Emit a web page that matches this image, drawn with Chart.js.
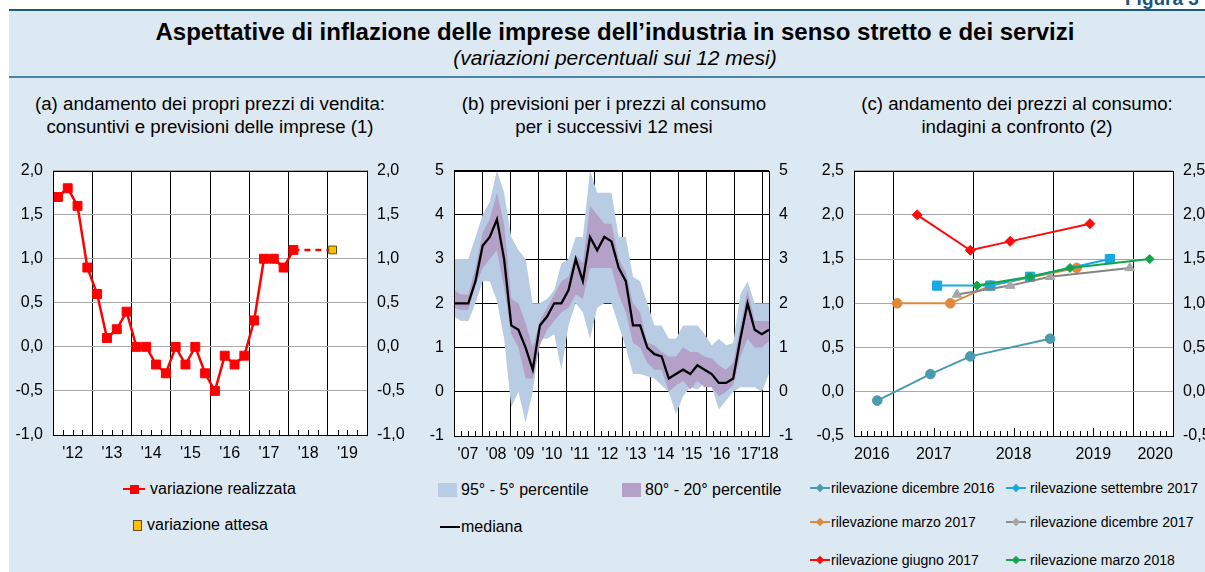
<!DOCTYPE html>
<html lang="it">
<head>
<meta charset="utf-8">
<title>Aspettative di inflazione delle imprese</title>
<script src="https://cdn.jsdelivr.net/npm/chart.js@4.4.1/dist/chart.umd.min.js"></script>
<style>
  html, body { margin: 0; padding: 0; }
  body { width: 1205px; height: 572px; position: relative; overflow: hidden; background: #fff;
         font-family: "Liberation Sans", Arial, Helvetica, sans-serif; color: #000; }
  #sfondo { position: absolute; left: 9px; top: 9px; width: 1196px; height: 563px; background: #dde9f2;
            border-top: 2px solid #1c5a80; box-sizing: border-box; }
  #riga { position: absolute; left: 9px; top: 76px; width: 1196px; height: 2px; background: #4b86a8; }
  #figura { position: absolute; left: 1125px; top: -12px; font-size: 19px; line-height: 22px; font-weight: bold; color: #17557f; white-space: nowrap; }
  #titolo { position: absolute; left: 0; width: 1230px; top: 18px; text-align: center; font-weight: bold;
            font-size: 24px; line-height: 28px; white-space: nowrap; }
  #sottotitolo { position: absolute; left: 0; width: 1230px; top: 46px; text-align: center; font-style: italic;
                 font-size: 21px; line-height: 24px; white-space: nowrap; }
  .pt { position: absolute; top: 92px; width: 420px; text-align: center; font-size: 18.7px; line-height: 23px; white-space: nowrap; }
  canvas { position: absolute; }
  .leg { position: absolute; line-height: 18px; height: 18px; white-space: nowrap; display: flex; align-items: center; }
  .f16 { font-size: 16px; }
  .f14 { font-size: 14px; }
  .seg { position: relative; display: inline-block; height: 18px; }
  .seg .l { position: absolute; left: 0; right: 0; top: 8px; height: 2px; }
  .seg .m { position: absolute; left: 50%; top: 50%; }
</style>
</head>
<body>
<div id="sfondo"></div>
<div id="riga"></div>
<div id="figura">Figura 3</div>
<div id="titolo">Aspettative di inflazione delle imprese dell’industria in senso stretto e dei servizi</div>
<div id="sottotitolo">(variazioni percentuali sui 12 mesi)</div>

<div class="pt" style="left:0px">(a) andamento dei propri prezzi di vendita:<br>consuntivi e previsioni delle imprese (1)</div>
<div class="pt" style="left:404px">(b) previsioni per i prezzi al consumo<br>per i successivi 12 mesi</div>
<div class="pt" style="left:807px">(c) andamento dei prezzi al consumo:<br>indagini a confronto (2)</div>

<canvas id="ca" width="410" height="314" style="left:0px;top:151px"></canvas>
<canvas id="cb" width="400" height="314" style="left:410px;top:151px"></canvas>
<canvas id="cc" width="395" height="314" style="left:810px;top:151px"></canvas>

<div id="legende"></div>

<script>
// ---------------- (a) propri prezzi di vendita (trimestrale, 2012-2019) ----------------
const anniA = [2012, 2013, 2014, 2015, 2016, 2017, 2018, 2019];
const realizzata = [1.7, 1.8, 1.6, 0.9, 0.6, 0.1, 0.2, 0.4, 0.0, 0.0, -0.2, -0.3, 0.0, -0.2, 0.0, -0.3,
                    -0.5, -0.1, -0.2, -0.1, 0.3, 1.0, 1.0, 0.9, 1.1];
const periodoAttesa = '2019T1';
const attesa = 1.1;
const yTickA = { min: -1.0, max: 2.0, step: 0.5 };

// ---------------- (b) previsioni a 12 mesi (trimestrale, 2007T1-2018T1) ----------------
const anniB = [2007, 2008, 2009, 2010, 2011, 2012, 2013, 2014, 2015, 2016, 2017, 2018];
const p95 = [3.0, 3.0, 3.0, 3.5, 4.0, 4.3, 5.0, 4.5, 3.5, 3.2, 3.0, 2.0, 2.0, 2.1, 2.3, 2.9, 3.0, 3.5, 3.5, 5.0,
             4.5, 4.5, 4.5, 3.5, 3.5, 2.6, 2.5, 2.0, 1.5, 1.5, 1.2, 1.2, 1.5, 1.5, 1.5, 1.3, 1.05, 1.2, 1.05, 1.1,
             2.2, 2.5, 2.0, 2.0, 2.0];
const p5 = [1.7, 1.6, 1.6, 2.0, 2.5, 2.5, 2.05, 1.2, -0.35, 0.0, -0.7, 0.0, 1.2, 1.2, 1.3, 0.5, 1.5, 2.0, 1.8, 1.2,
            1.9, 2.0, 2.0, 1.5, 1.0, 0.4, 0.4, 0.35, 0.3, 0.15, 0.0, -0.5, -0.1, 0.1, 0.05, 0.2, 0.1, -0.4, -0.2, 0.0,
            0.1, 0.1, 0.1, 0.0, 0.4];
const p80 = [2.3, 2.2, 2.2, 2.8, 3.6, 3.9, 4.5, 3.8, 2.1, 2.0, 1.55, 1.0, 1.6, 1.9, 2.2, 2.5, 2.6, 3.1, 2.9, 4.2,
             4.0, 3.8, 3.8, 3.0, 2.7, 2.0, 1.8, 1.1, 1.05, 0.9, 0.8, 0.8, 1.0, 0.9, 0.9, 0.8, 0.75, 0.6, 0.5, 0.65,
             1.5, 2.3, 1.6, 1.6, 1.6];
const p20 = [1.9, 1.85, 1.85, 2.4, 2.8, 3.0, 3.2, 2.35, 1.3, 1.0, 0.3, 0.3, 1.05, 1.4, 1.6, 1.8, 1.9, 2.2, 2.1, 2.8,
             2.8, 2.8, 2.8, 2.2, 1.8, 1.1, 1.0, 0.65, 0.5, 0.5, 0.0, 0.15, 0.25, 0.05, 0.25, 0.1, 0.1, -0.1, 0.0, 0.15,
             0.8, 1.2, 1.0, 1.0, 1.15];
const mediana = [2.0, 2.0, 2.0, 2.5, 3.3, 3.5, 3.9, 3.0, 1.5, 1.4, 1.0, 0.5, 1.5, 1.7, 2.0, 2.0, 2.3, 3.0, 2.5, 3.5,
                 3.2, 3.5, 3.4, 2.8, 2.5, 1.5, 1.5, 1.0, 0.85, 0.8, 0.3, 0.4, 0.5, 0.4, 0.6, 0.5, 0.4, 0.2, 0.2, 0.3,
                 1.2, 2.0, 1.4, 1.3, 1.4];
const yTickB = { min: -1, max: 5, step: 1 };

// ---------------- (c) indagini a confronto (mesi dall'inizio del 2016) ----------------
const anniC = [2016, 2017, 2018, 2019, 2020];
const mesiDic16 = [3.5, 11.5, 17.5, 29.5];  const valDic16 = [-0.1, 0.2, 0.4, 0.6];
const mesiMar17 = [6.5, 14.5, 20.5, 33.5];  const valMar17 = [1.0, 1.0, 1.2, 1.4];
const mesiGiu17 = [9.5, 17.5, 23.5, 35.5];  const valGiu17 = [2.0, 1.6, 1.7, 1.9];
const mesiSet17 = [12.5, 20.5, 26.5, 38.5]; const valSet17 = [1.2, 1.2, 1.3, 1.5];
const mesiDic17 = [15.5, 23.5, 29.5, 41.5]; const valDic17 = [1.1, 1.2, 1.3, 1.4];
const mesiMar18 = [18.5, 26.5, 32.5, 44.5]; const valMar18 = [1.2, 1.3, 1.4, 1.5];
const yTickC = { min: -0.5, max: 2.5, step: 0.5 };

// ---------------- helpers ----------------
const FONT = { family: '"Liberation Sans", Arial, sans-serif', size: 16 };
const virgola = v => v.toFixed(1).replace('.', ',');
const trimestri = (da, a, ultimoT) => {
  const out = [];
  for (let y = da; y <= a; y++) for (let q = 1; q <= 4; q++) {
    if (y === a && q > ultimoT) break;
    out.push(y + 'T' + q);
  }
  return out;
};
const trimestriA = trimestri(2012, 2019, 4);
const trimestriB = trimestri(2007, 2018, 1);
const trasp = 'rgba(0,0,0,0)';

// white plot area, minor ticks on the time axis, black frame
const cornice = {
  id: 'cornice',
  beforeDraw(chart) {
    const a = chart.chartArea, c = chart.ctx;
    c.save();
    c.fillStyle = '#fff';
    c.fillRect(a.left, a.top, a.right - a.left, a.bottom - a.top);
    c.restore();
  },
  afterDraw(chart, args, opts) {
    const a = chart.chartArea, c = chart.ctx, sx = chart.scales[opts.scala];
    c.save();
    c.strokeStyle = '#000';
    c.lineWidth = 1;
    c.beginPath();
    const n = Math.round((sx.max - sx.min) / opts.passo);
    for (let k = 1; k < n; k++) {
      const v = sx.min + k * opts.passo;
      const len = opts.lunghezza(v);
      if (!len) continue;
      const px = Math.round(sx.getPixelForValue(v)) + 0.5;
      c.moveTo(px, a.bottom);
      c.lineTo(px, a.bottom - len);
    }
    c.stroke();
    c.strokeRect(Math.round(a.left) + 0.5, Math.round(a.top) + 0.5,
                 Math.round(a.right - a.left), Math.round(a.bottom - a.top));
    c.restore();
  }
};
const intero = v => Math.abs(v - Math.round(v)) < 1e-6;
const annoBreve = v => "'" + String(Math.floor(v)).slice(2);

function assiY(t, larghSx, larghDx, colGriglia, fmt) {
  const base = {
    min: t.min, max: t.max,
    ticks: { stepSize: t.step, callback: fmt, color: '#000', font: FONT, padding: 10 },
    border: { display: false }
  };
  return {
    y: Object.assign({}, base, { position: 'left', grid: { color: colGriglia, drawTicks: false, lineWidth: 1 },
                                 afterFit: s => { s.width = larghSx; } }),
    y2: Object.assign({}, base, { position: 'right', grid: { drawOnChartArea: false, drawTicks: false },
                                  afterFit: s => { s.width = larghDx; } })
  };
}

function assiX(min, max, valori, etichetta, coloreGriglia, altezza, extra) {
  return Object.assign({
    type: 'linear', position: 'bottom', min: min, max: max,
    afterBuildTicks: s => { s.ticks = valori.map(v => ({ value: v })); },
    ticks: { callback: etichetta, color: '#000', font: FONT, padding: 9, maxRotation: 0, autoSkip: false },
    grid: { color: coloreGriglia, drawTicks: false, lineWidth: 1 },
    border: { display: false },
    afterFit: s => { s.height = altezza; }
  }, extra || {});
}

const comuni = {
  responsive: false, animation: false, events: [],
  layout: { padding: { top: 12, left: 0, right: 0, bottom: 0 } },
  plugins: { legend: { display: false }, tooltip: { enabled: false } }
};

// ---------------- chart (a) ----------------
const tickA = [];
anniA.forEach(y => tickA.push(y, y + 0.5));
tickA.push(anniA[anniA.length - 1] + 1);
new Chart(document.getElementById('ca'), {
  type: 'line',
  data: {
    labels: trimestriA,
    datasets: [
      { label: 'variazione attesa', data: [{ x: periodoAttesa, y: attesa }], xAxisID: 'xq', showLine: false,
        pointStyle: 'rect', pointRadius: 5.5, backgroundColor: '#ffc000', borderColor: '#5e4d1e', borderWidth: 1, order: 0 },
      { label: 'variazione realizzata', data: realizzata.map((v, i) => ({ x: trimestriA[i], y: v })), xAxisID: 'xq',
        borderColor: '#ff0000', backgroundColor: '#ff0000', borderWidth: 2.5, pointStyle: 'rect',
        pointRadius: 6.3, pointBorderWidth: 1, tension: 0, order: 1 },
      { label: 'raccordo', data: [{ x: trimestriA[realizzata.length - 1], y: realizzata[realizzata.length - 1] },
                                  { x: periodoAttesa, y: attesa }], xAxisID: 'xq',
        borderColor: '#ff0000', borderWidth: 2.5, borderDash: [6, 5], pointRadius: 0, order: 2 }
    ]
  },
  options: Object.assign({}, comuni, {
    scales: Object.assign({
      xq: { type: 'category', display: false, offset: true },
      x: assiX(anniA[0], anniA[anniA.length - 1] + 1, tickA,
               v => intero(v) ? '' : annoBreve(v),
               c => intero(c.tick.value) ? '#000' : trasp, 30)
    }, assiY(yTickA, 53, 43, '#a9a9a9', virgola)),
    plugins: Object.assign({}, comuni.plugins, {
      cornice: { scala: 'x', passo: 0.25, lunghezza: v => intero(v) ? 0 : 5 }
    })
  }),
  plugins: [cornice]
});

// ---------------- chart (b) ----------------
// year boundaries carry the grid lines, the labels sit mid-year (the last, partial year is labelled at its middle)
const tickB = [];
anniB.forEach((y, i) => {
  tickB.push(y);
  tickB.push(i < anniB.length - 1 ? y + 0.5 : y + 0.22);
});
const fascia = (dati, colore, riempi, ord) => ({
  data: dati, xAxisID: 'xq', borderColor: trasp, borderWidth: 0, pointRadius: 0,
  backgroundColor: colore, fill: riempi, order: ord, tension: 0
});
new Chart(document.getElementById('cb'), {
  type: 'line',
  data: {
    labels: trimestriB,
    datasets: [
      Object.assign(fascia(p95, trasp, false, 3), { label: '95° percentile' }),
      Object.assign(fascia(p5, '#b8cce4', '-1', 3), { label: '95° - 5° percentile' }),
      Object.assign(fascia(p80, trasp, false, 2), { label: '80° percentile' }),
      Object.assign(fascia(p20, '#b3a1c8', '-1', 2), { label: '80° - 20° percentile' }),
      { label: 'mediana', data: mediana, xAxisID: 'xq', borderColor: '#000', borderWidth: 2.3,
        pointRadius: 0, fill: false, order: 1, tension: 0 }
    ]
  },
  options: Object.assign({}, comuni, {
    scales: Object.assign({
      xq: { type: 'category', display: false, offset: false },
      x: assiX(anniB[0], anniB[anniB.length - 1] + 0.25, tickB,
               v => intero(v) ? '' : annoBreve(v),
               c => intero(c.tick.value) ? '#000' : trasp, 29, { z: 1 })
    }, (() => {
      const a = assiY(yTickB, 44, 41, '#000', v => String(v));
      a.y.z = 1;
      return a;
    })()),
    plugins: Object.assign({}, comuni.plugins, {
      filler: { propagate: false },
      cornice: { scala: 'x', passo: 0.25, lunghezza: v => intero(v) ? 0 : 5 }
    })
  }),
  plugins: [cornice]
});

// ---------------- chart (c) ----------------
const tickC = [];
anniC.forEach((y, i) => { tickC.push(y); if (i < anniC.length - 1) tickC.push(y + 0.5); });
const serie = (mesi, valori) => mesi.map((m, i) => ({ x: anniC[0] + m / 12, y: valori[i] }));
const lineaC = (label, mesi, valori, colore, stile, raggio, extra) => Object.assign({
  label: label, data: serie(mesi, valori), borderColor: colore, backgroundColor: colore,
  borderWidth: 2, pointStyle: stile, pointRadius: raggio, pointBorderWidth: 1, tension: 0
}, extra || {});
new Chart(document.getElementById('cc'), {
  type: 'line',
  data: {
    datasets: [
      lineaC('rilevazione marzo 2018', mesiMar18, valMar18, '#12a54c', 'rectRot', 4.5),
      lineaC('rilevazione dicembre 2017', mesiDic17, valDic17, '#8c8c8c', 'triangle', 5.5,
             { backgroundColor: '#a6a6a6', borderColor: '#858585', pointBorderColor: '#a6a6a6' }),
      lineaC('rilevazione settembre 2017', mesiSet17, valSet17, '#16a9e6', 'rect', 6.5),
      lineaC('rilevazione giugno 2017', mesiGiu17, valGiu17, '#ff0a0a', 'rectRot', 5),
      lineaC('rilevazione marzo 2017', mesiMar17, valMar17, '#e0893d', 'circle', 4.8),
      lineaC('rilevazione dicembre 2016', mesiDic16, valDic16, '#4a9ab0', 'circle', 4.8)
    ]
  },
  options: Object.assign({}, comuni, {
    scales: Object.assign({
      x: assiX(anniC[0], anniC[anniC.length - 1], tickC,
               v => intero(v) ? String(v) : '',
               c => intero(c.tick.value) ? trasp : '#000', 29,
               { ticks: { callback: v => intero(v) ? String(v) : '', color: '#000', font: FONT, padding: 9,
                          maxRotation: 0, autoSkip: false, align: 'inner' } })
    }, assiY(yTickC, 44, 32, '#a9a9a9', virgola)),
    plugins: Object.assign({}, comuni.plugins, {
      cornice: { scala: 'x', passo: 1 / 12,
                 lunghezza: v => intero(v) ? 8 : (Math.abs(v % 1 - 0.5) < 1e-6 ? 0 : 5) }
    })
  }),
  plugins: [cornice]
});

// ---------------- legends ----------------
function marcatore(tipo, colore, bordo) {
  const s = {
    quadrato: 'width:9px;height:9px;margin:-4.5px 0 0 -4.5px;',
    cerchio: 'width:8px;height:8px;margin:-4px 0 0 -4px;border-radius:50%;',
    rombo: 'width:6px;height:6px;margin:-3px 0 0 -3px;transform:rotate(45deg);'
  }[tipo];
  const b = bordo ? 'border:1px solid ' + bordo + ';box-sizing:border-box;' : '';
  return '<span class="m" style="' + s + 'background:' + colore + ';' + b + '"></span>';
}
function voce(x, y, testo, simbolo, cls) {
  return '<div class="leg ' + cls + '" style="left:' + x + 'px;top:' + (y - 9) + 'px">' + simbolo + '<span>' + testo + '</span></div>';
}
const segmento = (w, colore, mk, gap) =>
  '<span class="seg" style="width:' + w + 'px;margin-right:' + gap + 'px">' +
  (colore ? '<span class="l" style="background:' + colore + '"></span>' : '') + (mk || '') + '</span>';
const riquadro = (w, h, colore, gap, bordo) =>
  '<span style="display:inline-block;width:' + w + 'px;height:' + h + 'px;background:' + colore + ';margin-right:' + gap + 'px;' +
  (bordo ? 'border:1px solid ' + bordo + ';box-sizing:border-box;' : '') + '"></span>';

let html = '';
html += voce(123, 489, 'variazione realizzata', segmento(22, '#ff0000', marcatore('quadrato', '#ff0000'), 5), 'f16');
html += voce(133, 525, 'variazione attesa', riquadro(9, 11, '#ffc000', 5, '#5e4d1e'), 'f16');
html += voce(438, 490, '95° - 5° percentile', riquadro(19, 14, '#b8cce4', 4), 'f16');
html += voce(622, 490, '80° - 20° percentile', riquadro(19, 14, '#b3a1c8', 4), 'f16');
html += voce(440, 527, 'mediana', segmento(20, '#000', '', 1), 'f16');
html += voce(810, 488, 'rilevazione dicembre 2016', segmento(20, '#4a9ab0', marcatore('rombo', '#4a9ab0'), 1), 'f14');
html += voce(810, 522, 'rilevazione marzo 2017', segmento(20, '#e0893d', marcatore('rombo', '#e0893d'), 1), 'f14');
html += voce(810, 560, 'rilevazione giugno 2017', segmento(20, '#ff0a0a', marcatore('rombo', '#ff0a0a'), 1), 'f14');
html += voce(1006, 488, 'rilevazione settembre 2017', segmento(20, '#16a9e6', marcatore('rombo', '#16a9e6'), 4), 'f14');
html += voce(1006, 522, 'rilevazione dicembre 2017', segmento(20, '#8c8c8c', marcatore('rombo', '#a6a6a6'), 4), 'f14');
html += voce(1006, 560, 'rilevazione marzo 2018', segmento(20, '#12a54c', marcatore('rombo', '#12a54c'), 4), 'f14');
document.getElementById('legende').innerHTML = html;
</script>
</body>
</html>
